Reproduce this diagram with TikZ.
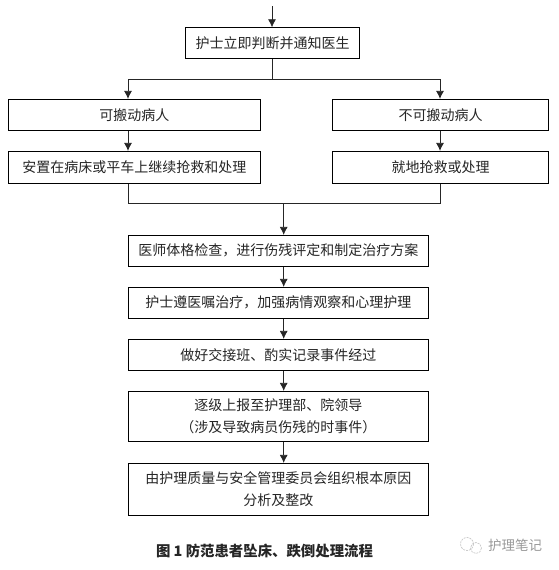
\documentclass[tikz,border=0pt]{standalone}
\usepackage{fontspec}
\setmainfont{Noto Sans CJK SC}[Scale=1]
\usetikzlibrary{arrows.meta}
\tikzset{
  flowbox/.style={draw=black,line width=0.8pt,fill=white,inner sep=0pt,align=center,font=\fontsize{14}{22}\selectfont,text=black!85},
  flowline/.style={draw=black!85,line width=0.8pt},
  flowarrow/.style={flowline,-{Latex[length=8pt,width=8pt]}}
}
\newcommand{\boxat}[6]{\node[flowbox,minimum width=#4 pt-#2 pt,minimum height=#5 pt-#3 pt] (#1) at ({(#2+#4)/2},{(#3+#5)/2}) {#6};}
\begin{document}
\begin{tikzpicture}[x=1pt,y=-1pt]
\useasboundingbox (0,0) rectangle (558,570);
\boxat{top}{185.5}{27.7}{359.5}{58.7}{护士立即判断并通知医生}
\boxat{la}{8.2}{99.3}{260.5}{130.3}{可搬动病人}
\boxat{lb}{8.2}{151.3}{260.5}{183.3}{安置在病床或平车上继续抢救和处理}
\boxat{ra}{332.4}{99.3}{548.8}{130.3}{不可搬动病人}
\boxat{rb}{332.4}{151.3}{548.8}{183.3}{就地抢救或处理}
\boxat{s1}{128.3}{235.3}{428.3}{266.3}{医师体格检查，进行伤残评定和制定治疗方案}
\boxat{s2}{128.3}{287.3}{428.3}{318.3}{护士遵医嘱治疗，加强病情观察和心理护理}
\boxat{s3}{128.3}{339.3}{428.3}{370.3}{做好交接班、酌实记录事件经过}
\boxat{s4}{128.3}{391.3}{428.3}{441.7}{逐级上报至护理部、院领导\\（涉及导致病员伤残的时事件）}
\boxat{s5}{128.3}{463.3}{428.3}{515.3}{由护理质量与安全管理委员会组织根本原因\\分析及整改}
\coordinate (start) at (272,6);
\coordinate (split) at (272,79.3);
\coordinate (lx) at (128,79.3);
\coordinate (rx) at (440,79.3);
\coordinate (mlx) at (128.5,203.3);
\coordinate (mrx) at (440.6,203.3);
\coordinate (ax) at (283.7,203.3);
\draw[flowarrow] (start) -- (top.north -| start);
\draw[flowline] (top.south -| split) -- (split);
\draw[flowline] (lx) -- (rx);
\draw[flowarrow] (lx) -- (la.north -| lx);
\draw[flowarrow] (rx) -- (ra.north -| rx);
\draw[flowarrow] (la.south -| lx) -- (lb.north -| lx);
\draw[flowarrow] (ra.south -| rx) -- (rb.north -| rx);
\draw[flowline] (lb.south -| mlx) -- (mlx) -- (mrx) -- (rb.south -| mrx);
\draw[flowarrow] (ax) -- (s1.north -| ax);
\draw[flowarrow] (s1.south -| ax) -- (s2.north -| ax);
\draw[flowarrow] (s2.south -| ax) -- (s3.north -| ax);
\draw[flowarrow] (s3.south -| ax) -- (s4.north -| ax);
\draw[flowarrow] (s4.south -| ax) -- (s5.north -| ax);
\node[font=\fontsize{14.4}{16}\selectfont\bfseries,text=black!85,inner sep=0pt] (cap) at (264.5,551) {图 1 防范患者坠床、跌倒处理流程};
\node[font=\fontsize{13.5}{16}\selectfont,text=black!40,inner sep=0pt] (mark) at (515,545.5) {护理笔记};
\draw[black!22,line width=0.7pt,dash pattern=on 2pt off 1pt] (467,544) circle (6.5);
\draw[black!22,line width=0.7pt,dash pattern=on 2pt off 1pt] (476,548) circle (5.5);
\end{tikzpicture}
\end{document}
